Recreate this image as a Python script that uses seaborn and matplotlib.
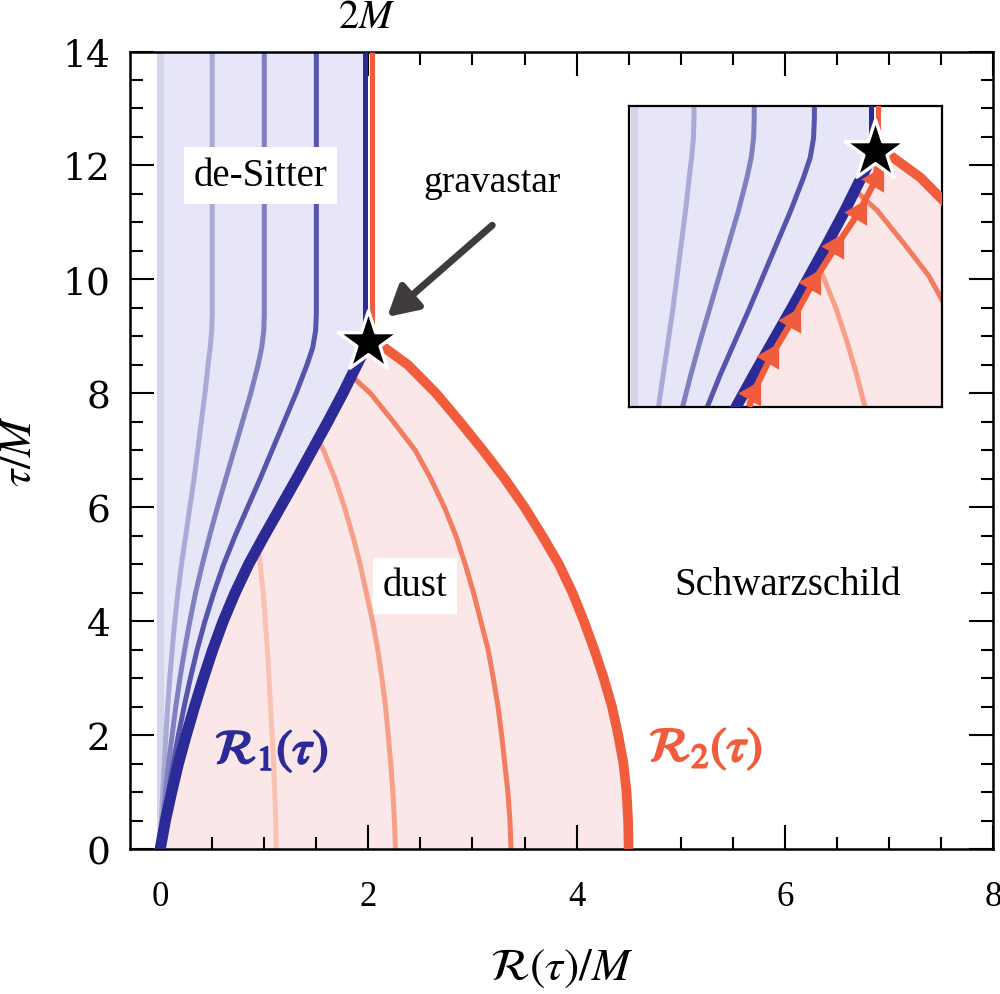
import matplotlib
matplotlib.use("Agg")
import matplotlib.pyplot as plt
import matplotlib.patheffects as pe
from matplotlib.ticker import MultipleLocator
import seaborn as sns

# -------------------------------
# data (units of M)
# -------------------------------
# shell boundaries R1 (de-Sitter / dust) and R2 (dust / Schwarzschild)
tau = [0, 0.5, 1, 1.5, 2, 2.5, 3, 3.5, 4, 4.5, 5, 5.5, 6, 6.5, 7, 7.5, 8, 8.5, 8.9]
r1 = [0.0, 0.05, 0.11, 0.175, 0.25, 0.33, 0.415, 0.505, 0.605, 0.72, 0.85, 1.0,
      1.155, 1.31, 1.46, 1.61, 1.755, 1.89, 2.0]
r2 = [4.50, 4.495, 4.48, 4.45, 4.40, 4.34, 4.26, 4.17, 4.07, 3.96, 3.83, 3.67,
      3.50, 3.31, 3.10, 2.88, 2.65, 2.38, 2.08]

# after the gravastar forms, both boundaries sit at 2M
top_tau = [8.9, 14.0]
top_blue = [1.97, 1.97]
top_red = [2.03, 2.03]

star_r = [2.0]
star_tau = [8.9]

# de-Sitter shells
ds_tau = [0, 0.5, 1, 1.5, 2, 2.5, 3, 3.5, 4, 4.5, 5, 5.5, 6, 6.5, 7, 7.5, 8,
          8.5, 8.8, 9.1, 9.4, 9.8, 14]
ds1 = [0, 0.012, 0.025, 0.04, 0.055, 0.072, 0.092, 0.115, 0.14, 0.17, 0.205,
       0.245, 0.285, 0.325, 0.36, 0.395, 0.43, 0.46, 0.48, 0.495, 0.5, 0.5, 0.5]
ds2 = [0, 0.025, 0.05, 0.08, 0.115, 0.15, 0.19, 0.235, 0.285, 0.34, 0.405, 0.475,
       0.55, 0.63, 0.71, 0.79, 0.87, 0.94, 0.975, 0.995, 1.0, 1.0, 1.0]
ds3 = [0, 0.035, 0.08, 0.125, 0.175, 0.23, 0.29, 0.355, 0.43, 0.515, 0.61, 0.72,
       0.84, 0.96, 1.075, 1.19, 1.305, 1.41, 1.465, 1.493, 1.5, 1.5, 1.5]

# dust shells
d1_tau = [5.3, 5.0, 4.5, 4.0, 3.5, 3.0, 2.5, 2.0, 1.5, 1.0, 0.5, 0]
d1 = [0.94, 0.96, 0.99, 1.01, 1.03, 1.045, 1.06, 1.075, 1.09, 1.10, 1.11, 1.115]
d2_tau = [7.17, 7.0, 6.5, 6.0, 5.5, 5.0, 4.5, 4.0, 3.5, 3.0, 2.5, 2.0, 1.5, 1.0,
          0.5, 0]
d2 = [1.52, 1.57, 1.68, 1.77, 1.85, 1.92, 1.98, 2.04, 2.09, 2.13, 2.165, 2.19,
      2.215, 2.235, 2.25, 2.26]
d3_tau = [8.3, 8.0, 7.5, 7.0, 6.5, 6.0, 5.5, 5.0, 4.5, 4.0, 3.5, 3.0, 2.5, 2.0,
          1.5, 1.0, 0.5, 0]
d3 = [1.84, 2.02, 2.24, 2.45, 2.60, 2.73, 2.84, 2.93, 3.01, 3.08, 3.15, 3.20,
      3.245, 3.28, 3.31, 3.34, 3.36, 3.37]

# inset: dust side of R1, with arrows
arrow_tau = [5.0, 5.21, 5.77, 6.33, 6.9, 7.45, 7.97, 8.47, 8.9]
arrow_r = [0.96, 0.99, 1.14, 1.32, 1.49, 1.68, 1.87, 2.01, 2.03]

# colours
c_r1 = "#2b2a96"
c_ds = ["#aaaad6", "#8080c0", "#5555ae"]
c_band = "#d4d4ea"
c_ds_fill = "#e6e6f8"
c_r2 = "#f05c3c"
c_d = ["#f9c1b2", "#f6a08a", "#f27c62"]
c_dust_fill = "#fbe7e7"
c_arrow = "#3f3b3d"

sns.set_theme(style="ticks")
plt.rcParams["font.family"] = ["Liberation Serif", "DejaVu Serif"]
plt.rcParams["mathtext.fontset"] = "stix"
plt.rcParams["axes.linewidth"] = 1.8
for key in ["text.color", "axes.labelcolor", "xtick.color", "ytick.color",
            "axes.edgecolor"]:
    plt.rcParams[key] = "black"


def line(ax, x, y, color, lw, z=2):
    sns.lineplot(x=x, y=y, sort=False, estimator=None, color=color, lw=lw,
                 ax=ax, legend=False, zorder=z)
    ax.lines[-1].set_solid_capstyle("butt")
    ax.lines[-1].set_solid_joinstyle("round")


def draw_panel(ax, inset=False):
    ax.fill_betweenx(tau + top_tau, 0, r1 + top_blue, color=c_ds_fill, lw=0,
                     zorder=0)
    ax.fill_betweenx(tau, r1, r2, color=c_dust_fill, lw=0, zorder=0)
    ax.axvline(0, color=c_band, lw=5, zorder=1)

    for xs, c in zip([ds1, ds2, ds3], c_ds):
        line(ax, xs, ds_tau, c, 3.6)
    for xs, ts, c in zip([d1, d2, d3], [d1_tau, d2_tau, d3_tau], c_d):
        line(ax, xs, ts, c, 3.6)

    line(ax, top_blue, top_tau, c_r1, 3.6, 3)
    line(ax, top_red, top_tau, c_r2, 3.6, 3)
    line(ax, r1, tau, c_r1, 8, 3)
    line(ax, r2, tau, c_r2, 7, 3)

    if inset:
        line(ax, arrow_r, arrow_tau, c_r2, 4.5, 4)
        sns.scatterplot(x=arrow_r[1:-1], y=arrow_tau[1:-1], marker=(3, 0, -30),
                        s=480, color=c_r2, linewidth=0, ax=ax, zorder=4)

    sns.scatterplot(x=star_r, y=star_tau, marker="*", s=2100, color="black",
                    edgecolor="white", linewidth=2.4, ax=ax, zorder=6)


# -------------------------------
# main panel
# -------------------------------
fig = plt.figure(figsize=(10, 9.95), dpi=100)
ax = fig.add_axes([0.13, 0.1457, 0.863, 0.8015])
draw_panel(ax)

ax.set_xlim(-0.29, 8.0)
ax.set_ylim(0, 14)
ax.xaxis.set_major_locator(MultipleLocator(2))
ax.xaxis.set_minor_locator(MultipleLocator(0.5))
ax.yaxis.set_major_locator(MultipleLocator(2))
ax.yaxis.set_minor_locator(MultipleLocator(0.5))
ax.tick_params(which="both", direction="in", top=True, right=True, width=1.5)
ax.tick_params(which="major", length=17)
ax.tick_params(which="minor", length=9)
ax.tick_params(axis="x", pad=22, labelsize=25)
ax.tick_params(axis="y", pad=14, labelsize=27, labelfontfamily="DejaVu Serif")

ax.set_xlabel(r"$\mathcal{R}(\tau)/M$", fontsize=33)
ax.set_ylabel(r"$\tau/M$", fontsize=32)
ax.xaxis.set_label_coords(0.5, -0.122)
ax.yaxis.set_label_coords(-0.104, 0.5)

ax.text(1.98, 1.031, r"$2M$", transform=ax.get_xaxis_transform(),
        ha="center", va="baseline", fontsize=29)

box = dict(boxstyle="square,pad=0.25", fc="white", ec="none")
ax.text(0.96, 11.82, "de-Sitter", fontsize=28, ha="center", va="center",
        bbox=box, zorder=7)
ax.text(2.45, 4.62, "dust", fontsize=28, ha="center", va="center",
        bbox=box, zorder=7)
ax.text(3.19, 11.72, "gravastar", fontsize=27, ha="center", va="center")
ax.text(6.03, 4.64, "Schwarzschild", fontsize=28, ha="center", va="center")

stroke = lambda c: [pe.withStroke(linewidth=1.4, foreground=c)]
ax.text(1.07, 1.72, r"$\mathcal{R}_1(\tau)$", fontsize=35, color=c_r1,
        ha="center", va="center", path_effects=stroke(c_r1))
ax.text(5.24, 1.76, r"$\mathcal{R}_2(\tau)$", fontsize=35, color=c_r2,
        ha="center", va="center", path_effects=stroke(c_r2))

ax.annotate("", xy=(2.18, 9.34), xytext=(3.19, 10.95),
            arrowprops=dict(arrowstyle="-|>,head_length=0.9,head_width=0.5",
                            color=c_arrow, lw=5, mutation_scale=20,
                            shrinkA=0, shrinkB=0), zorder=7)

# -------------------------------
# inset: zoom on the formation of the gravastar
# -------------------------------
ax_in = fig.add_axes([0.629, 0.59, 0.313, 0.3025])
ax_in.set_facecolor("white")
draw_panel(ax_in, inset=True)
ax_in.set_xlim(-0.04, 2.56)
ax_in.set_ylim(5.0, 9.59)
ax_in.set_xticks([])
ax_in.set_yticks([])
ax_in.set_xlabel("")
ax_in.set_ylabel("")
for s in ax_in.spines.values():
    s.set_linewidth(1.6)
    s.set_color("black")

fig.savefig("out.png", dpi=100)
